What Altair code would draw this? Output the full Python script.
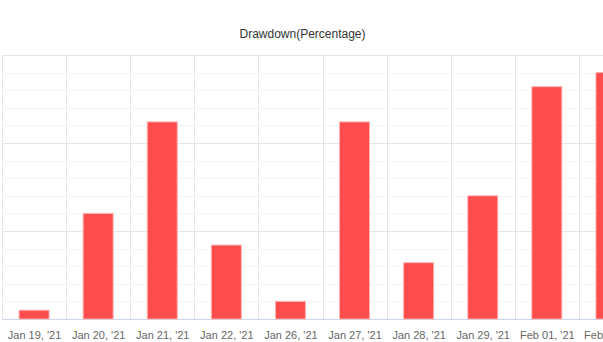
import altair as alt
import pandas as pd

dates = ["Jan 19, '21", "Jan 20, '21", "Jan 21, '21", "Jan 22, '21", "Jan 26, '21",
         "Jan 27, '21", "Jan 28, '21", "Jan 29, '21", "Feb 01, '21", "Feb 02, '21"]
drawdown = [0.5, 6.0, 11.2, 4.2, 1.0, 11.2, 3.2, 7.0, 13.2, 14.0]
y_ticks = list(range(0, 16))

df = pd.DataFrame({"date": dates, "drawdown": drawdown})

FONT = "Liberation Sans"

chart = alt.Chart(df).mark_bar(
    size=30, fill="#ff4d4d", stroke="#ffb0b0", strokeWidth=1
).encode(
    x=alt.X("date:N", sort=None, title=None,
            scale=alt.Scale(range=[0, 641], paddingInner=0, paddingOuter=0),
            axis=alt.Axis(tickBand="extent", grid=True, gridColor="#e6e6e6", gridWidth=1,
                          domainColor="#ccd6eb", domainWidth=1, ticks=False, tickSize=0,
                          labelAngle=0, labelFont=FONT, labelFontSize=11, labelColor="#666666",
                          labelPadding=10, labelOverlap=False, labelBound=False, labelFlush=False)),
    y=alt.Y("drawdown:Q", title=None,
            scale=alt.Scale(domain=[0, 15], nice=False),
            axis=alt.Axis(values=y_ticks, labels=False, ticks=False, domain=False, grid=True,
                          gridColor=alt.condition("datum.value % 5 == 0",
                                                  alt.value("#e6e6e6"), alt.value("#f4f4f4")),
                          gridWidth=1)),
).properties(
    width=601,
    height=264,
    autosize=alt.AutoSizeParams(type="none"),
    padding={"left": 2, "top": 55, "right": 0, "bottom": 23},
    background="white",
    title=alt.TitleParams("Drawdown(Percentage)", font=FONT, fontSize=12, fontWeight="normal",
                          color="#333333", anchor="middle", baseline="alphabetic", offset=5),
).configure_view(strokeWidth=0)

chart.save("out.html", embed_options={"renderer": "svg", "actions": False})
